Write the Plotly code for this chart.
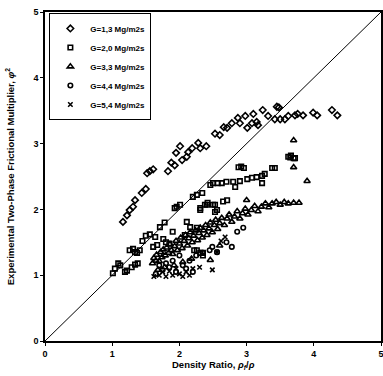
import plotly.graph_objects as go

# ---------------- data ----------------
g13_x = [1.16, 1.22, 1.26, 1.31, 1.34, 1.44, 1.50, 1.52, 1.56, 1.61, 1.83, 1.88, 1.93, 1.95,
         2.01, 2.04, 2.11, 2.13, 2.19, 2.28, 2.31, 2.40, 2.53, 2.60, 2.66, 2.71, 2.78, 2.87,
         2.90, 2.98, 3.01, 3.08, 3.10, 3.15, 3.17, 3.24, 3.32, 3.45, 3.48, 3.42, 3.50, 3.57,
         3.62, 3.72, 3.76, 3.84, 3.99, 4.05, 4.27, 4.35]
g13_y = [1.81, 1.91, 1.99, 2.04, 2.14, 2.25, 2.31, 2.55, 2.58, 2.61, 2.58, 2.71, 2.67, 2.86,
         2.96, 2.75, 2.80, 2.87, 2.93, 3.01, 2.93, 2.96, 3.15, 3.13, 3.25, 3.24, 3.31, 3.39,
         3.31, 3.42, 3.24, 3.31, 3.45, 3.33, 3.28, 3.51, 3.42, 3.56, 3.55, 3.37, 3.37, 3.37,
         3.42, 3.43, 3.45, 3.43, 3.47, 3.43, 3.51, 3.43]

g20_x = [1.01, 1.04, 1.09, 1.12, 1.19, 1.22, 1.26, 1.29, 1.31, 1.34, 1.37, 1.41, 1.34, 1.38,
         1.45, 1.50, 1.56, 1.61, 1.64, 1.67, 1.71, 1.76, 1.78, 1.90, 1.93, 1.96, 2.01, 2.08,
         2.11, 2.16, 2.20, 2.26, 2.26, 2.31, 2.31, 2.35, 2.38, 2.41, 2.46, 2.50, 2.53, 2.56,
         2.57, 2.63, 2.70, 2.80, 2.83, 2.90, 3.01, 3.08, 3.15, 3.23, 3.27, 3.23, 3.38, 3.42,
         3.65, 3.72, 2.34, 2.42, 2.50, 2.65, 2.71, 2.53, 2.88, 2.92, 2.96, 3.62, 3.66, 3.70,
         2.22, 2.26, 2.31, 2.35, 1.80, 1.85]
g20_y = [1.03, 1.10, 1.18, 1.15, 1.05, 1.07, 1.38, 1.12, 1.40, 1.35, 1.34, 1.38, 1.16, 1.18,
         1.52, 1.60, 1.62, 1.43, 1.58, 1.46, 1.73, 1.55, 1.80, 1.66, 2.02, 2.04, 2.07, 1.61,
         1.81, 1.73, 2.19, 2.22, 1.72, 2.02, 1.99, 1.34, 2.07, 2.07, 2.37, 2.40, 2.07, 1.99,
         2.40, 2.40, 2.42, 2.42, 2.34, 2.43, 2.46, 2.48, 2.49, 2.51, 2.54, 2.40, 2.63, 2.63,
         2.79, 2.78, 2.25, 2.10, 2.07, 2.12, 2.14, 1.96, 2.64, 2.65, 2.63, 2.80, 2.82, 2.78,
         1.38, 1.38, 1.34, 1.30, 1.50, 1.48]

g33_x = [1.60, 1.62, 1.65, 1.66, 1.70, 1.72, 1.74, 1.76, 1.79, 1.81, 1.84, 1.86, 1.88, 1.90,
         1.93, 1.95, 1.97, 2.00, 2.02, 2.04, 2.07, 2.09, 2.12, 2.14, 2.16, 2.19, 2.21, 2.24,
         2.27, 2.29, 2.31, 2.34, 2.36, 2.39, 2.41, 2.44, 2.46, 2.49, 2.52, 2.54, 2.57, 2.60,
         2.63, 2.67, 2.71, 2.74, 2.78, 2.82, 2.86, 2.90, 2.94, 2.98, 3.02, 3.07, 3.12, 3.17,
         3.22, 3.28, 3.33, 3.38, 3.44, 3.50, 3.56, 3.62, 3.70, 3.78, 3.00, 3.70, 3.70, 3.90,
         2.46, 2.60, 1.68, 1.78, 1.92, 2.05, 2.18]
g33_y = [1.18, 1.26, 1.22, 1.31, 1.21, 1.35, 1.27, 1.39, 1.30, 1.42, 1.34, 1.47, 1.38, 1.32,
         1.44, 1.52, 1.38, 1.48, 1.57, 1.41, 1.52, 1.61, 1.45, 1.56, 1.65, 1.50, 1.60, 1.68,
         1.53, 1.64, 1.72, 1.57, 1.68, 1.76, 1.61, 1.71, 1.80, 1.65, 1.76, 1.84, 1.70, 1.79,
         1.87, 1.76, 1.86, 1.92, 1.81, 1.89, 1.97, 1.86, 1.94, 2.01, 1.92, 1.99, 2.05, 1.97,
         2.04, 2.09, 2.03, 2.09, 2.11, 2.07, 2.11, 2.09, 2.10, 2.10, 2.14, 3.05, 2.64, 2.43,
         1.23, 1.45, 1.08, 1.12, 1.15, 1.20, 1.25]

g44_x = [2.86, 2.95, 2.78, 2.56, 2.49, 2.70, 1.65, 1.75, 1.85, 1.95, 2.05, 2.15, 2.25, 2.45,
         1.70, 1.90, 2.00, 2.10, 2.35, 1.80, 2.20]
g44_y = [1.66, 1.72, 1.43, 1.35, 1.43, 1.50, 1.02, 1.08, 1.12, 1.05, 1.15, 1.22, 1.30, 1.38,
         1.15, 1.22, 1.30, 1.10, 1.34, 1.18, 1.05]

g54_x = [2.49, 2.56, 2.68, 1.62, 1.70, 1.80, 1.90, 2.00, 2.10, 2.20, 1.75, 1.95, 2.05, 1.85,
         2.15, 2.30, 2.62]
g54_y = [1.08, 1.35, 1.58, 0.98, 1.00, 0.98, 1.00, 1.02, 1.05, 1.10, 1.05, 1.10, 0.98, 1.06,
         1.00, 1.12, 1.52]

diag_x = [0, 5]
diag_y = [0, 5]

names = ["G=1,3 Mg/m2s", "G=2,0 Mg/m2s", "G=3,3 Mg/m2s", "G=4,4 Mg/m2s", "G=5,4 Mg/m2s"]
symbols = ["diamond-open", "square-open", "triangle-up-open", "circle-open", "x-thin-open"]
series = [(g13_x, g13_y), (g20_x, g20_y), (g33_x, g33_y), (g44_x, g44_y), (g54_x, g54_y)]
sizes = [5, 4.5, 5.5, 4.5, 4.5]

fig = go.Figure()
fig.add_trace(go.Scatter(x=diag_x, y=diag_y, mode="lines", line=dict(color="black", width=1),
                         showlegend=False, hoverinfo="skip"))
for (xs, ys), nm, sym, sz in zip(series, names, symbols, sizes):
    fig.add_trace(go.Scatter(x=xs, y=ys, mode="markers", name=nm,
                             marker=dict(symbol=sym, size=sz, color="black",
                                         line=dict(color="black", width=1.6))))

font = "Liberation Sans"
axis_common = dict(range=[0, 5], dtick=1, showline=True, linecolor="black", linewidth=1.5,
                   mirror=True, ticks="outside", ticklen=3, tickcolor="black",
                   showgrid=False, zeroline=False, automargin=False,
                   ticklabeloverflow="allow",
                   tickfont=dict(family=font, size=9, color="black", weight="bold"))
fig.update_xaxes(**axis_common)
fig.update_yaxes(**axis_common)

fig.update_layout(
    width=383, height=376,
    margin=dict(l=45, r=2, t=12, b=35),
    paper_bgcolor="white", plot_bgcolor="white",
    legend=dict(x=0.013, y=0.997, xanchor="left", yanchor="top",
                bordercolor="black", borderwidth=1, bgcolor="white",
                font=dict(family=font, size=8, color="black", weight="bold"),
                itemwidth=30, tracegroupgap=0),
    annotations=[
        dict(text="Density Ratio, <i>ρ<sub>f</sub></i>/<i>ρ</i>", xref="paper", yref="paper",
             x=0.5, y=-0.072, xanchor="center", yanchor="middle", showarrow=False,
             font=dict(family=font, size=9.5, color="black", weight="bold")),
        dict(text="Experimental Two-Phase Frictional Multiplier, <i>φ</i><sup>2</sup>",
             xref="paper", yref="paper", x=-0.105, y=0.5, xanchor="center", yanchor="middle",
             textangle=-90, showarrow=False,
             font=dict(family=font, size=9.5, color="black", weight="bold")),
    ],
)

fig.write_html("out.html", config={"displayModeBar": False},
               post_script="document.body.style.margin='0';document.body.style.padding='0';"
                           "document.body.style.overflow='hidden';")
